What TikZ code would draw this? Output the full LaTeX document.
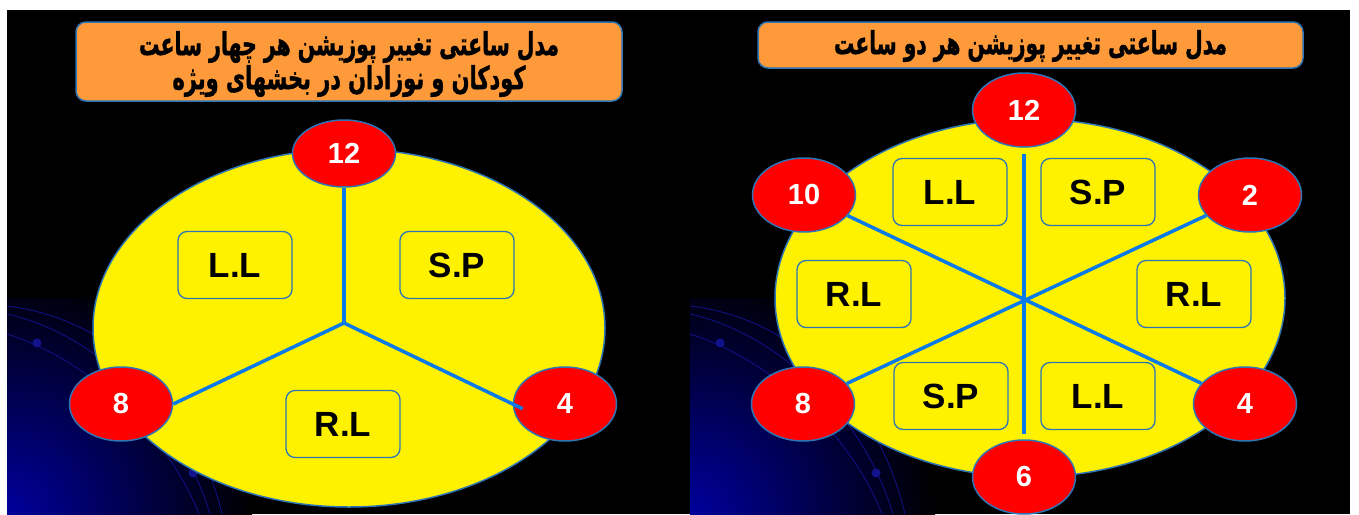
\documentclass[tikz,border=0pt]{standalone}
\usepackage{fontspec}
\setmainfont{Liberation Sans}
\newfontfamily\arabicfont[Script=Arabic, BoldFeatures={FakeBold=1.6}]{DejaVu Sans}
\TeXXeTstate=1
\usetikzlibrary{shapes.geometric}
\definecolor{bgblue}{HTML}{00009C}
\definecolor{bord}{HTML}{2E75B6}
\definecolor{connblue}{HTML}{0A7AE8}
\definecolor{orng}{HTML}{FF9A3A}
\definecolor{arcblue}{HTML}{12128C}
\begin{document}
\begin{tikzpicture}[x=1pt,y=-1pt,
  bigell/.style={ellipse, draw=bord, line width=1.5pt, fill=yellow, minimum width=512pt, minimum height=358pt, inner sep=0pt},
  hour/.style={ellipse, draw=bord, line width=1.5pt, fill=red, minimum width=103pt, minimum height=74pt, inner sep=0pt, text=white, font=\fontsize{29}{29}\selectfont\bfseries},
  lbl/.style={rectangle, rounded corners=9pt, draw=bord, line width=1.3pt, minimum width=114pt, minimum height=67pt, inner sep=0pt, font=\fontsize{35}{35}\selectfont\bfseries},
  titlebox/.style={rectangle, rounded corners=10pt, draw=bord, line width=1.5pt, fill=orng, inner sep=0pt},
  titletext/.style={inner sep=0pt, text=black},
  connector/.style={draw=connblue, line width=3.5pt},
  orbit/.style={draw=arcblue, line width=0.8pt},
  orbdot/.style={fill=arcblue}
]
\useasboundingbox (0,0) rectangle (1359,514);
\fill[white] (0,0) rectangle (1359,514);
\fill[black] (7,10) rectangle (1350,514);

% background decorations of both panels
\foreach \dx in {0,683}{
  \begin{scope}[shift={(\dx,0)}]
    \begin{scope}
      \clip (7,298) rectangle (340,514);
      \shade[inner color=bgblue, outer color=black] (7,514) circle (245);
    \end{scope}
    \draw[orbit] (7,306) .. controls (110,318) and (195,400) .. (222,514);
    \draw[orbit] (7,314) .. controls (100,335) and (182,420) .. (210,514);
    \draw[orbit] (7,334) .. controls (95,362) and (170,440) .. (199,514);
    \fill[orbdot] (37,343) circle (4.5);
    \fill[orbdot] (193,473) circle (4.5);
  \end{scope}
}

% ---------------- left panel ----------------
\node[titlebox, minimum width=546pt, minimum height=79pt] (tl) at (349,61.5) {};
\node[titletext] (tl1) at (349,47) {\resizebox{420pt}{24pt}{\arabicfont\bfseries\beginR مدل ساعتی تغییر پوزیشن هر چهار ساعت\endR}};
\node[titletext] (tl2) at (349,81) {\resizebox{353pt}{24pt}{\arabicfont\bfseries\beginR کودکان و نوزادان در بخشهای ویژه\endR}};

\node[bigell] (el) at (349,328) {};
\coordinate (hl) at (344,323);
\node[lbl] (lLL) at (235,265) {L.L};
\node[lbl] (lSP) at (457,265) {S.P};
\node[lbl] (lRL) at (343,424) {R.L};
\node[hour, minimum height=67pt] (l12) at (344,153.5) {12};
\node[hour] (l8) at (121,404) {8};
\node[hour] (l4) at (565,404) {4};
\draw[connector] (hl) -- (l12.south);
\draw[connector] (hl) -- (l8.east);
\draw[connector, shorten >=-11pt] (hl) -- (l4.west);

% ---------------- right panel ----------------
\node[titlebox, minimum width=545pt, minimum height=46pt] (tr) at (1030.5,45) {};
\node[titletext] (tr1) at (1030.5,46) {\resizebox{393pt}{24pt}{\arabicfont\bfseries\beginR مدل ساعتی تغییر پوزیشن هر دو ساعت\endR}};

\node[bigell, minimum width=510pt] (er) at (1030,298) {};
\node[lbl] (rLL1) at (950,192) {L.L};
\node[lbl] (rSP1) at (1098,192) {S.P};
\node[lbl] (rRL1) at (854,294) {R.L};
\node[lbl] (rRL2) at (1194,294) {R.L};
\node[lbl] (rSP2) at (951,396) {S.P};
\node[lbl] (rLL2) at (1098,396) {L.L};
\node[hour] (r12) at (1024,110) {12};
\node[hour] (r10) at (804,195) {10};
\node[hour] (r2) at (1250,195) {2};
\node[hour] (r8) at (803,404) {8};
\node[hour] (r4) at (1245,404) {4};
\node[hour] (r6) at (1024,477) {6};
\draw[connector, shorten <=6pt, shorten >=5pt] (r12) -- (r6);
\draw[connector] (r10) -- (r4);
\draw[connector] (r2) -- (r8);
\end{tikzpicture}
\end{document}
